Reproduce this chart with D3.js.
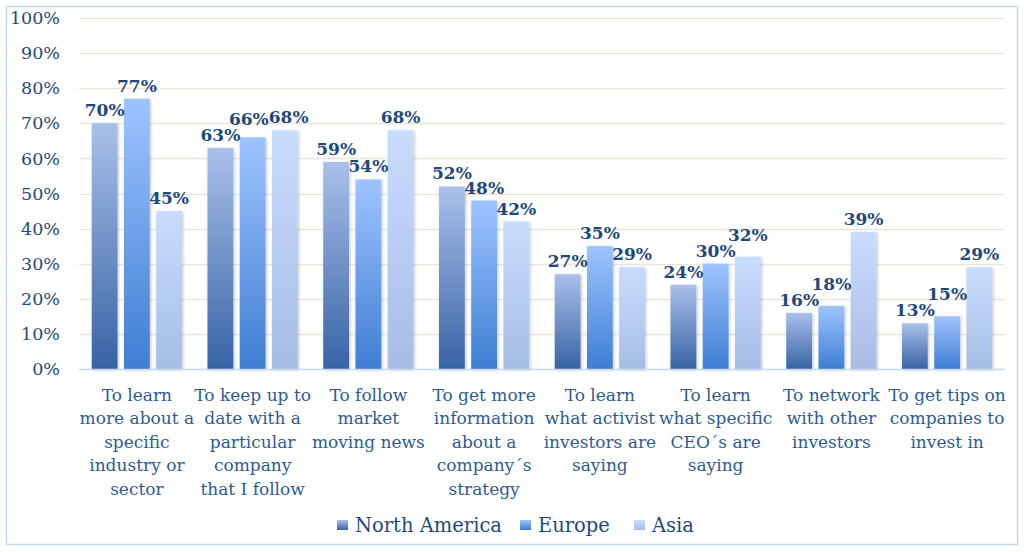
<!DOCTYPE html>
<html><head><meta charset="utf-8">
<script src="https://cdn.jsdelivr.net/npm/d3@7"></script>
<style>body{margin:0;background:#fff}svg{display:block}</style>
</head><body><svg id="c" width="1024" height="552"></svg>
<script>
const categories = [
  ["To learn","more about a","specific","industry or","sector"],
  ["To keep up to","date with a","particular","company","that I follow"],
  ["To follow","market","moving news"],
  ["To get more","information","about a","company´s","strategy"],
  ["To learn","what activist","investors are","saying"],
  ["To learn","what specific","CEO´s are","saying"],
  ["To network","with other","investors"],
  ["To get tips on","companies to","invest in"]
];
const seriesNames = ["North America","Europe","Asia"];
const northAmerica = [70,63,59,52,27,24,16,13];
const europe = [77,66,54,48,35,30,18,15];
const asia = [45,68,68,42,29,32,39,29];
const yTicks = [0,10,20,30,40,50,60,70,80,90,100];

(function(){
const series = [northAmerica, europe, asia];
const grads = [["#a9c0ea","#3763a5"],["#9ec4ff","#3e7ed3"],["#c8dcff","#a8bde4"]];
const font = "'DejaVu Serif', serif";
const txt = "#1f497d";

const svg = d3.select("#c");
const defs = svg.append("defs");
grads.forEach((g,i)=>{
  const lg = defs.append("linearGradient").attr("id","g"+i).attr("x1",0).attr("y1",0).attr("x2",0).attr("y2",1);
  lg.append("stop").attr("offset","0%").attr("stop-color",g[0]);
  lg.append("stop").attr("offset","100%").attr("stop-color",g[1]);
});
const f = defs.append("filter").attr("id","sh").attr("x","-30%").attr("y","-10%").attr("width","160%").attr("height","120%");
f.append("feDropShadow").attr("dx",1).attr("dy",1).attr("stdDeviation",1.5).attr("flood-color","#000").attr("flood-opacity",0.25);

svg.append("rect").attr("x",6.5).attr("y",6.5).attr("width",1011).attr("height",538)
  .attr("fill","#fff").attr("stroke","#c5d9f1").attr("stroke-width",1.5);

const pl=79, pr=1005, pt=18, pb=369;
const y = d3.scaleLinear().domain([0,100]).range([pb,pt]);
const x0 = d3.scaleBand().domain(d3.range(categories.length)).range([pl,pr]).paddingInner(0.22).paddingOuter(0.11);
const x1 = d3.scaleBand().domain(d3.range(series.length)).range([0,x0.bandwidth()]).paddingInner(0.2);

svg.append("g").selectAll("line").data(yTicks.filter(d=>d>0)).join("line")
  .attr("x1",pl).attr("x2",pr).attr("y1",d=>Math.round(y(d))+0.5).attr("y2",d=>Math.round(y(d))+0.5)
  .attr("stroke","#e9e6d9").attr("stroke-width",1.5);

const ya = svg.append("g").attr("transform",`translate(${pl},0)`)
  .call(d3.axisLeft(y).tickValues(yTicks).tickFormat(d=>d+"%").tickSize(0).tickPadding(19));
ya.select(".domain").remove();
ya.selectAll("text").attr("font-family",font).attr("font-size",17.5).attr("fill",txt);

const barLayer = svg.append("g");
const labelLayer = svg.append("g");
const gs = barLayer.selectAll("g").data(categories).join("g")
  .attr("transform",(d,i)=>`translate(${x0(i)},0)`);
const H = 14;
gs.each(function(c,i){
  const g = d3.select(this);
  series.forEach((s,j)=>{
    g.append("rect").attr("x",x1(j)).attr("width",x1.bandwidth())
      .attr("y",y(s[i])).attr("height",pb-y(s[i]))
      .attr("fill",`url(#g${j})`).attr("filter","url(#sh)");
  });
  const labs = series.map((s,j)=>{
    const t = labelLayer.append("text").attr("text-anchor","middle").attr("font-family",font)
      .attr("font-weight","bold").attr("font-size",17).attr("fill",txt).text(s[i]+"%");
    const w = t.node().getComputedTextLength();
    return {t, w, cx: x0(i)+x1(j)+x1.bandwidth()/2, by: y(s[i])-7, v:s[i]};
  });
  for(let j=1;j<labs.length;j++){
    const a=labs[j-1], b=labs[j];
    const hov = (a.w+b.w)/2 - (b.cx-a.cx);
    const dv = Math.abs(a.by-b.by);
    if(hov>0 && dv<H){
      if(dv<4){ a.cx -= hov/2; b.cx += hov/2; }
      else if(b.v > a.v) b.by = a.by - H - 2;
      else a.by = b.by - H - 2;
    }
  }
  labs.forEach(l=>l.t.attr("x",l.cx).attr("y",l.by));
});

svg.append("line").attr("x1",pl).attr("x2",pr).attr("y1",pb+0.5).attr("y2",pb+0.5)
  .attr("stroke","#c5d9f1").attr("stroke-width",1.5);

categories.forEach((lines,i)=>{
  const t = svg.append("text").attr("text-anchor","middle").attr("font-family",font)
    .attr("font-size",17).attr("fill","#2c5b97");
  lines.forEach((l,k)=>{
    t.append("tspan").attr("x",x0(i)+x0.bandwidth()/2).attr("y",401+k*23.4).text(l);
  });
});

const lgd = svg.append("g");
const legX = [337,520,634];
seriesNames.forEach((n,j)=>{
  lgd.append("rect").attr("x",legX[j]).attr("y",520).attr("width",11).attr("height",10).attr("fill",`url(#g${j})`);
  lgd.append("text").attr("x",legX[j]+18).attr("y",532).attr("font-family",font).attr("font-size",19.5)
    .attr("fill",txt).text(n);
});
})();
</script></body></html>
